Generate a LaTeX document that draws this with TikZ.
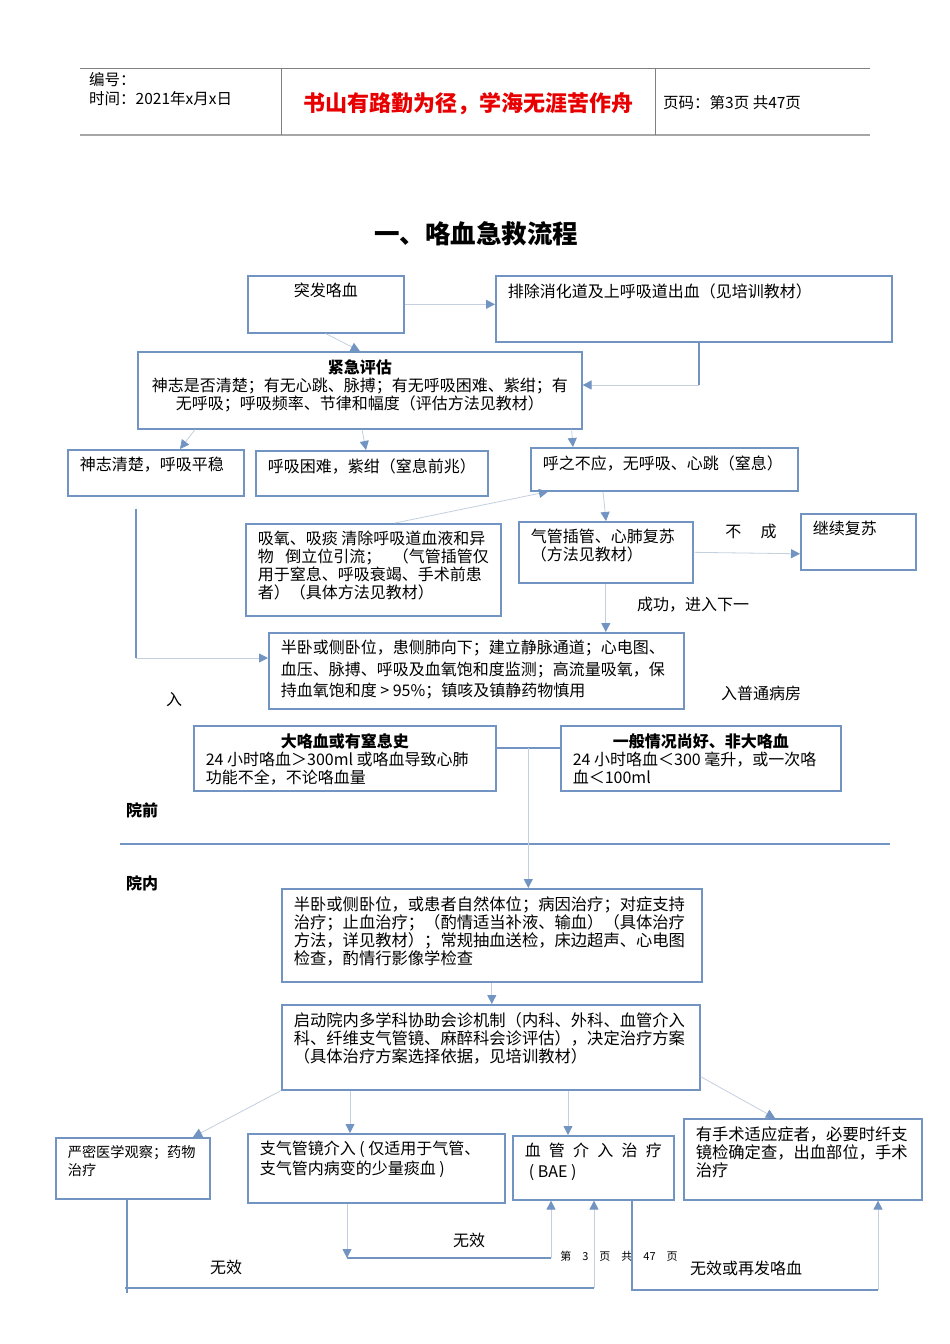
\documentclass[tikz,border=0pt]{standalone}
\usepackage{fontspec}
\setmainfont{Noto Sans CJK SC}
\usetikzlibrary{arrows.meta, calc}

\definecolor{boxblue}{RGB}{114,148,194}
\definecolor{linkgray}{RGB}{196,208,224}
\definecolor{rulegray}{RGB}{128,128,128}
\definecolor{sloganred}{RGB}{232,0,0}

% text block at the top of a box of w x h
\newcommand{\boxtext}[3]{\parbox[c][\dimexpr#2pt-15pt\relax][t]{\dimexpr#1pt-24pt\relax}{#3}}

\tikzset{
	flowbox/.style = {draw = boxblue, line width = 1.6pt, anchor = north west, inner xsep = 12pt, inner ysep = 7.5pt, font = \fontsize{16}{18}\selectfont},
	link/.style = {draw = linkgray, line width = 0.8pt},
	flow/.style = {link, -{Triangle[width = 9pt, length = 9pt, color = boxblue]}},
	bond/.style = {draw = boxblue, line width = 1.8pt},
	note/.style = {font = \fontsize{16}{18}\selectfont, inner sep = 0pt},
	headtext/.style = {font = \fontsize{15.5}{18}\selectfont, inner sep = 0pt, anchor = west}
}

\begin{document}
\begin{tikzpicture}[x = 1pt, y = -1pt]
		\path[fill = white, use as bounding box] (0,0) rectangle (950,1344);
		
		% header table
		\draw[rulegray, line width = 0.8pt] (80,68) -- (870,68);
		\draw[rulegray!70, line width = 2.5pt] (80,135) -- (870,135);
		\draw[rulegray, line width = 0.8pt] (281,68) -- (281,135) (655,68) -- (655,135);
		\node[headtext] (serial) at (89,80) {编号：};
		\node[headtext] (date) at (89,99) {时间：2021年x月x日};
		\node[font = \fontsize{22}{24}\selectfont\bfseries, text = sloganred] (slogan) at (468,104) {书山有路勤为径，学海无涯苦作舟};
		\node[headtext] (pageno) at (663,103) {页码：第3页 共47页};
		
		\node[font = \fontsize{25.5}{30}\selectfont\bfseries] (title) at (476,234) {一、咯血急救流程};
		
		% before hospital
		\node[flowbox] (onset) at (247,275) {\boxtext{156}{57}{\centering 突发咯血}};
		\node[flowbox] (exclude) at (495,275) {\boxtext{396}{66}{排除消化道及上呼吸道出血（见培训教材）}};
		\node[flowbox] (assess) at (137,351) {\boxtext{444}{77}{\centering{\bfseries 紧急评估}\\
				神志是否清楚；有无心跳、脉搏；有无呼吸困难、紫绀；有\\
				无呼吸；呼吸频率、节律和幅度（评估方法见教材）}};
		\node[flowbox] (calm) at (67,449) {\boxtext{176}{46}{神志清楚，呼吸平稳}};
		\node[flowbox] (dyspnea) at (255,450) {\boxtext{232}{45}{呼吸困难，紫绀（窒息前兆）}};
		\node[flowbox] (apnea) at (530,447) {\boxtext{267}{43}{呼之不应，无呼吸、心跳（窒息）}};
		\node[flowbox] (suction) at (245,523) {\boxtext{255}{92}{吸氧、吸痰 清除呼吸道血液和异\\
				物\hfill 倒立位引流；\hfill（气管插管仅\\
				用于窒息、呼吸衰竭、手术前患\\
				者）（具体方法见教材）}};
		\node[flowbox] (intubate) at (518,521) {\boxtext{174}{61}{气管插管、心肺复苏\\（方法见教材）}};
		\node[flowbox] (resus) at (800,513) {\boxtext{115}{56}{继续复苏}};
		\node[flowbox, font = \fontsize{16}{21.5}\selectfont] (monitor) at (268,632) {\boxtext{415}{76}{半卧或侧卧位，患侧肺向下；建立静脉通道；心电图、\\
				血压、脉搏、呼吸及血氧饱和度监测；高流量吸氧，保\\
				持血氧饱和度 > 95\%；镇咳及镇静药物慎用}};
		\node[flowbox] (massive) at (193,725) {\boxtext{302}{65}{\makebox[\linewidth]{\bfseries 大咯血或有窒息史}\\
				24 小时咯血＞300ml 或咯血导致心肺\\
				功能不全，不论咯血量}};
		\node[flowbox] (mild) at (560,725) {\boxtext{280}{65}{\makebox[\linewidth]{\bfseries 一般情况尚好、非大咯血}\\
				24 小时咯血＜300 毫升，或一次咯\\
				血＜100ml}};
		
		\node[font = \fontsize{16}{18}\selectfont\bfseries] (prehosp) at (142,810) {院前};
		\draw[bond] (120,844) -- (890,844);
		\node[font = \fontsize{16}{18}\selectfont\bfseries] (inhosp) at (142,883) {院内};
		
		% in hospital
		\node[flowbox, font = \fontsize{16.3}{18}\selectfont] (inward) at (281,888) {\boxtext{420}{93}{半卧或侧卧位，或患者自然体位；病因治疗；对症支持\\
				治疗；止血治疗；（酌情适当补液、输血）（具体治疗\\
				方法，详见教材）；常规抽血送检，床边超声、心电图\\
				检查，酌情行影像学检查}};
		\node[flowbox, font = \fontsize{16.3}{18}\selectfont] (consult) at (281,1004) {\boxtext{418}{85}{启动院内多学科协助会诊机制（内科、外科、血管介入\\
				科、纤维支气管镜、麻醉科会诊评估），决定治疗方案\\
				（具体治疗方案选择依据，见培训教材）}};
		\node[flowbox, font = \fontsize{14.2}{18}\selectfont] (observe) at (55,1137) {\boxtext{154}{61}{严密医学观察；药物\\治疗}};
		\node[flowbox, font = \fontsize{16}{20}\selectfont] (bronch) at (247,1133) {\boxtext{257}{69}{支气管镜介入 ( 仅适用于气管、\\
				支气管内病变的少量痰血 )}};
		\node[flowbox, font = \fontsize{16}{21}\selectfont] (bae) at (512,1135) {\boxtext{161}{64}{血\hfill 管\hfill 介\hfill 入\hfill 治\hfill 疗\\\hspace*{4pt}( BAE )}};
		\node[flowbox, font = \fontsize{16.3}{18}\selectfont] (surgery) at (683,1118) {\boxtext{238}{81}{有手术适应症者，必要时纤支\\
				镜检确定查，出血部位，手术\\
				治疗}};
		
		% free labels
		\node[note] (fail note) at (751,531) {不\hspace{1.2em}成};
		\node[note] (success note) at (693,605) {成功，进入下一};
		\node[note] (admit note) at (174,700) {入};
		\node[note] (ward note) at (761,693) {入普通病房};
		\node[note] (retry note) at (469,1240) {无效};
		\node[note] (observe note) at (226,1267) {无效};
		\node[note, font = \fontsize{11}{13}\selectfont] (page note) at (619,1256) {第\quad 3\quad 页\quad 共\quad 47\quad 页};
		\node[note] (relapse note) at (746,1268) {无效或再发咯血};
		
		% connectors, upper part
		\draw[flow] (onset.east) -- (onset.east -| exclude.west);
		\draw[flow] (onset.south) -- (assess.north);
		\coordinate (exclude turn) at (699,385);
		\draw[bond] (exclude.south -| exclude turn) -- (exclude turn);
		\draw[flow] (exclude turn) -- (exclude turn -| assess.east);
		\draw[flow] ([xshift = 58pt]assess.south west) -- ([xshift = 113pt]calm.north west);
		\draw[flow] ([xshift = 225pt]assess.south west) -- ([xshift = 111pt]dyspnea.north west);
		\draw[flow] ([xshift = -11pt]assess.south east) -- ([xshift = 43pt]apnea.north west);
		\draw[flow] ([xshift = 73pt]apnea.south west) -- ([xshift = 88pt]intubate.north west);
		\draw[flow] ([xshift = 150pt]suction.north west) -- ([xshift = 18pt]apnea.south west);
		\draw[flow] (intubate.east) -- ([yshift = -12pt]resus.west);
		\draw[flow] (intubate.south) -- (intubate.south |- monitor.north);
		\coordinate (calm turn) at (136,658);
		\draw[bond] ([yshift = -12pt]calm.south -| calm turn) -- (calm turn);
		\draw[flow] (calm turn) -- (calm turn -| monitor.west);
		\draw[bond] ([yshift = 10pt]massive.east) -- ([yshift = 10pt]mild.west);
		\coordinate (merge) at ($([yshift = 10pt]massive.east)!0.5!([yshift = 10pt]mild.west)$);
		\draw[flow] (merge) -- (merge |- inward.north);
		
		% connectors, lower part
		\draw[flow] (inward.south) -- (inward.south |- consult.north);
		\draw[flow] (consult.south west) -- ([xshift = 138pt]observe.north west);
		\draw[flow] ([xshift = 69pt]consult.south west) -- ([xshift = 69pt]consult.south west |- bronch.north);
		\draw[flow] ([xshift = 287pt]consult.south west) -- ([xshift = 287pt]consult.south west |- bae.north);
		\draw[flow] ([yshift = 14pt]consult.south east) -- ([xshift = 92pt]surgery.north west);
		
		\coordinate (retry left) at (347,1258);
		\coordinate (retry right) at (551,1258);
		\draw[flow] (bronch.south -| retry left) -- (retry left);
		\draw[bond] (retry left) -- (retry right);
		\draw[flow] (retry right) -- (retry right |- bae.south);
		
		\coordinate (observe corner) at (127,1288);
		\coordinate (observe end) at (594,1288);
		\draw[bond] (observe.south -| observe corner) -- ([yshift = -5pt]observe corner);
		\draw[bond] ([xshift = -2pt]observe corner) -- (observe end);
		\draw[flow] (observe end) -- (observe end |- bae.south);
		
		\coordinate (relapse corner) at (632,1290);
		\coordinate (relapse end) at (878,1290);
		\draw[bond] (bae.south -| relapse corner) -- (relapse corner) -- (relapse end);
		\draw[flow] (relapse end) -- (relapse end |- surgery.south);
	\end{tikzpicture}
\end{document}
